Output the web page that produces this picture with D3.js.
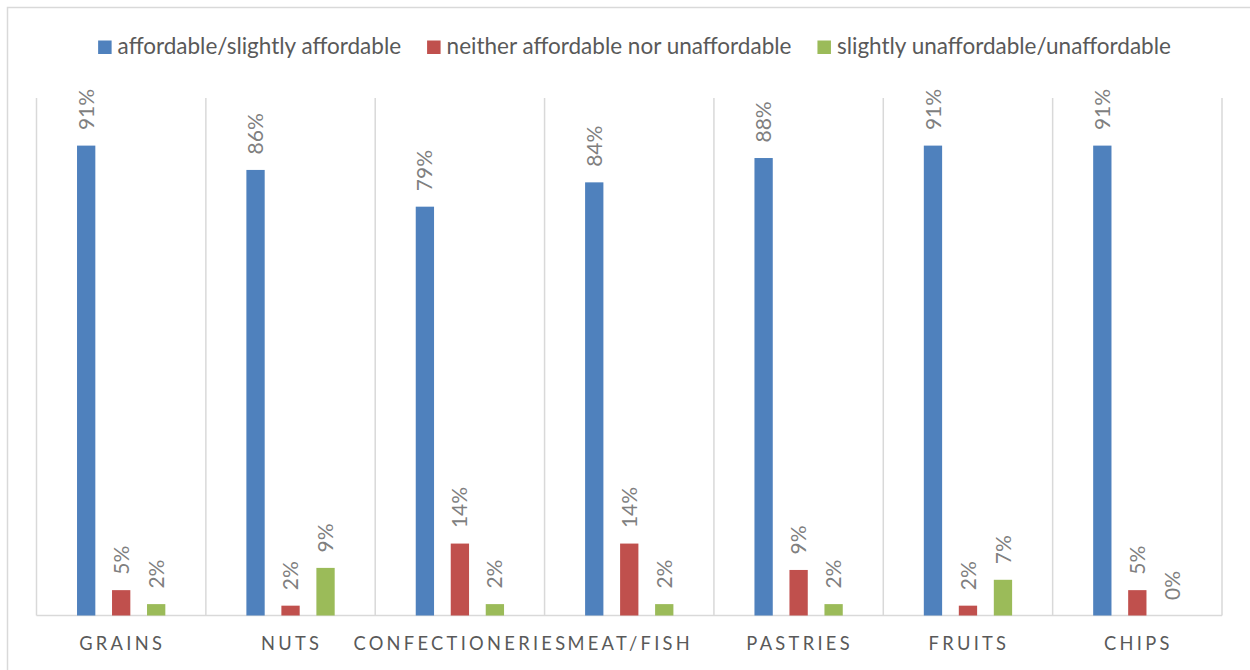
<!DOCTYPE html>
<html>
<head>
<meta charset="utf-8">
<script src="https://cdn.jsdelivr.net/npm/d3@7"></script>
<style>
  html, body { margin: 0; padding: 0; background: #fff; }
  svg { display: block; }
  text { font-family: "Lato", "Noto Sans", sans-serif; }
</style>
</head>
<body>
<svg id="chart" width="1250" height="670"></svg>
<script>
// ---- data ----
const categories = ["GRAINS", "NUTS", "CONFECTIONERIES", "MEAT/FISH", "PASTRIES", "FRUITS", "CHIPS"];
const seriesNames = ["affordable/slightly affordable", "neither affordable nor unaffordable", "slightly unaffordable/unaffordable"];
const affordable   = [90.8, 86.1, 79.0, 83.7, 88.4, 90.8, 90.8];
const neither      = [4.9, 1.9, 13.9, 13.9, 8.8, 1.9, 4.9];
const unaffordable = [2.2, 9.2, 2.2, 2.2, 2.2, 6.9, 0];
const seriesColors = ["#4F81BD", "#C0504D", "#9BBB59"];

const seriesValues = [affordable, neither, unaffordable];

// ---- layout ----
const W = 1250, H = 670;
const plot = { left: 36.5, right: 1222, top: 98, bottom: 615.5 };

const svg = d3.select("#chart");

// outer frame
svg.append("rect")
  .attr("x", 7.5).attr("y", 7.5)
  .attr("width", W + 10).attr("height", H + 10)
  .attr("fill", "#fff").attr("stroke", "#D9D9D9").attr("stroke-width", 1.5);

const x0 = d3.scaleBand().domain(categories).range([plot.left, plot.right]).padding(0);
const x1 = d3.scaleBand().domain(seriesNames).range([0, x0.bandwidth()])
  .paddingInner(0.477).paddingOuter(1.158);
const y = d3.scaleLinear().domain([0, 100]).range([plot.bottom, plot.top]);

// vertical category gridlines (band edges)
const edges = categories.map(c => x0(c)).concat([x0(categories[categories.length - 1]) + x0.bandwidth()]);
svg.append("g").selectAll("line").data(edges).join("line")
  .attr("x1", d => d).attr("x2", d => d)
  .attr("y1", plot.top).attr("y2", plot.bottom)
  .attr("stroke", "#D9D9D9").attr("stroke-width", 1.5);

// baseline
svg.append("line")
  .attr("x1", plot.left).attr("x2", plot.right)
  .attr("y1", plot.bottom).attr("y2", plot.bottom)
  .attr("stroke", "#D9D9D9").attr("stroke-width", 1.5);

// bars
const rows = [];
categories.forEach((c, i) => {
  seriesNames.forEach((s, j) => {
    rows.push({ cat: c, series: s, value: seriesValues[j][i], color: seriesColors[j] });
  });
});

const g = svg.append("g");
g.selectAll("rect.bar").data(rows).join("rect")
  .attr("class", "bar")
  .attr("x", d => x0(d.cat) + x1(d.series))
  .attr("width", x1.bandwidth())
  .attr("y", d => y(d.value))
  .attr("height", d => y(0) - y(d.value))
  .attr("fill", d => d.color);

// data labels (rotated)
g.selectAll("text.lbl").data(rows).join("text")
  .attr("class", "lbl")
  .attr("transform", d => {
    const cx = x0(d.cat) + x1(d.series) + x1.bandwidth() / 2;
    const cy = y(d.value) - 15.5;
    return `translate(${cx},${cy}) rotate(-90)`;
  })
  .attr("dy", "0.36em")
  .attr("text-anchor", "start")
  .attr("font-size", 21)
  .attr("fill", "#7F7F7F")
  .text(d => Math.round(d.value) + "%");

// x-axis category labels
svg.append("g").selectAll("text").data(categories).join("text")
  .attr("x", d => x0(d) + x0.bandwidth() / 2 + 1)
  .attr("y", 650)
  .attr("text-anchor", "middle")
  .attr("font-size", 18.3)
  .attr("letter-spacing", "3.3px")
  .attr("fill", "#595959")
  .text(d => d);

// legend
const legend = svg.append("g");
const items = legend.selectAll("g").data(seriesNames).join("g");
items.append("rect")
  .attr("width", 13.5).attr("height", 13.5)
  .attr("y", 40.5)
  .attr("fill", (d, i) => seriesColors[i]);
items.append("text")
  .attr("x", 19.5).attr("y", 54)
  .attr("font-size", 22.5)
  .attr("fill", "#595959")
  .text(d => d);
let cursor = 0;
const positions = [];
items.each(function() {
  const tw = d3.select(this).select("text").node().getComputedTextLength();
  positions.push(cursor);
  cursor += 19.5 + tw + 26;
});
const totalW = cursor - 26;
const startX = 634.5 - totalW / 2;
items.attr("transform", (d, i) => `translate(${startX + positions[i]},0)`);
</script>
</body>
</html>
